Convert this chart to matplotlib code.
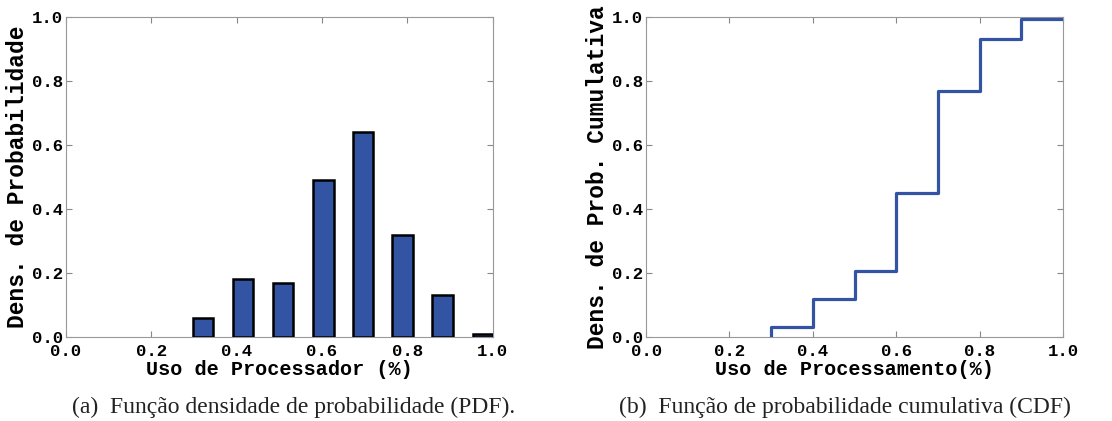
import numpy as np
import matplotlib
matplotlib.use('Agg')
import matplotlib.pyplot as plt

#=========================#
#  data                   #
#=========================#
# PDF (histogram bars)
bar_left = [0.297, 0.391, 0.485, 0.579, 0.672, 0.765, 0.858, 0.953]
bar_width = 0.048
pdf_vals = [0.06, 0.18, 0.17, 0.49, 0.64, 0.32, 0.13, 0.01]

# CDF (step function)
cdf_x = [0.3, 0.3, 0.4, 0.5, 0.6, 0.7, 0.8, 0.9, 1.0]
cdf_y = [0.0, 0.03, 0.12, 0.205, 0.45, 0.77, 0.93, 0.995, 0.995]

ticks = [0.0, 0.2, 0.4, 0.6, 0.8, 1.0]
tick_labels = ['0.0', '0.2', '0.4', '0.6', '0.8', '1.0']

mono = 'Liberation Mono'
serif = 'Liberation Serif'
blue = '#3353a3'

#=========================#
#  figure                 #
#=========================#
fig = plt.figure(figsize=(11.12, 4.21), dpi=100, facecolor='white')
ax1 = fig.add_axes([0.0594, 0.1995, 0.3836, 0.760])
ax2 = fig.add_axes([0.581, 0.1995, 0.375, 0.760])

# (a) PDF
ax1.bar(bar_left, pdf_vals, width=bar_width, align='edge', color=blue,
        edgecolor='k', linewidth=1.8, zorder=3, clip_on=True)

# (b) CDF
ax2.step(cdf_x, cdf_y, where='post', color=blue, linewidth=2.3, zorder=3)

for ax in (ax1, ax2):
    ax.set_xlim(0, 1)
    ax.set_ylim(0, 1)
    ax.set_xticks(ticks)
    ax.set_yticks(ticks)
    ax.set_xticklabels(tick_labels, family=mono, fontsize=12.5, fontweight='bold')
    ax.set_yticklabels(tick_labels, family=mono, fontsize=12.5, fontweight='bold')
    ax.tick_params(axis='both', which='major', direction='in', length=4, width=0.8,
                   color='#888888', top=True, right=True, pad=2)
    ax.tick_params(axis='x', pad=5)
    for s in ax.spines.values():
        s.set_color('#999999')
        s.set_linewidth(0.8)

ax1.set_xlabel('Uso de Processador (%)', family=mono, fontweight='bold', fontsize=14.5, labelpad=1)
ax1.set_ylabel('Dens. de Probabilidade', family=mono, fontweight='bold', fontsize=16.5, labelpad=2)
ax2.set_xlabel('Uso de Processamento(%)', family=mono, fontweight='bold', fontsize=14.5, labelpad=1)
ax2.set_ylabel('Dens. de Prob. Cumulativa', family=mono, fontweight='bold', fontsize=16.5, labelpad=2)

# captions
fig.text(0.264, 0.033, '(a)  Função densidade de probabilidade (PDF).', family=serif,
         fontsize=17, ha='center', va='center', color='#222222')
fig.text(0.760, 0.033, '(b)  Função de probabilidade cumulativa (CDF)', family=serif,
         fontsize=17, ha='center', va='center', color='#222222')

fig.savefig('out.png', dpi=100, facecolor='white')
plt.close()
